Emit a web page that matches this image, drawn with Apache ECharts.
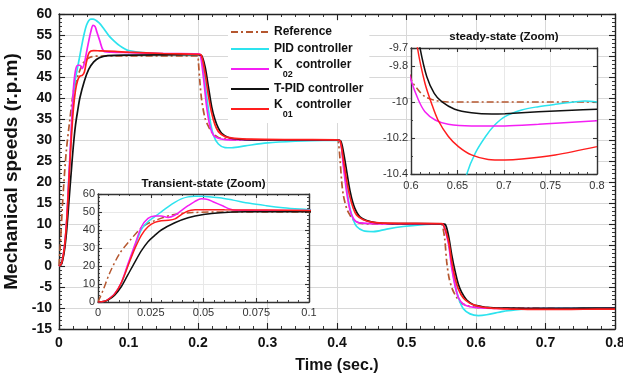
<!DOCTYPE html>
<html>
<head>
<meta charset="utf-8">
<script src="https://cdn.jsdelivr.net/npm/echarts@6/dist/echarts.min.js"></script>
<style>
  html, body { margin: 0; padding: 0; background: #fff; }
  #chart { width: 623px; height: 381px; }
</style>
</head>
<body>
<div id="chart"></div>
<script>
// Speed responses of the drive for a staircase reference (50 -> 30 -> 10 -> -10 r.p.m)
const seriesNames = ['Reference', 'PID controller', 'K02 controller', 'T-PID controller', 'K01 controller'];

// [time (s), speed (r.p.m)]
const refData = [
  [0, 0], [0.0024, 6.5], [0.0055, 16], [0.0103, 27], [0.015, 34], [0.0213, 42], [0.0276, 45.5],
  [0.0355, 48.5], [0.045, 49.7], [0.06, 50], [0.2, 50],
  [0.2005, 48.8], [0.2029, 43.5], [0.2053, 39.5], [0.2101, 35.2], [0.2149, 33.3], [0.2197, 31.9],
  [0.2293, 30.6], [0.2437, 30.15], [0.26, 30], [0.4, 30],
  [0.4019, 29.6], [0.4043, 25.5], [0.4067, 20.2], [0.4091, 16.9], [0.4139, 13.7], [0.4187, 12.1],
  [0.4235, 11], [0.4331, 10.2], [0.45, 10], [0.55, 10],
  [0.5515, 9.8], [0.5549, 6.6], [0.5578, 1.1], [0.5612, -2.8], [0.566, -5.5], [0.5708, -7.1],
  [0.578, -8.7], [0.5875, -9.45], [0.6, -9.87], [0.608, -9.935], [0.615, -9.97], [0.625, -9.99],
  [0.64, -10], [0.8, -10]
];
const pidData = [
  [0, 0], [0.003, 0.4], [0.0047, 1.3], [0.0079, 4.5], [0.0111, 10.5], [0.0142, 20.5], [0.0174, 30.6],
  [0.0206, 40.4], [0.0237, 44.6], [0.0269, 47.4], [0.03, 50.1], [0.0332, 52.9], [0.0364, 55.4],
  [0.0395, 57.3], [0.0427, 58.4], [0.0458, 58.8], [0.049, 58.8], [0.0577, 57.9], [0.064, 56.6],
  [0.0719, 54.8], [0.0798, 53.5], [0.0877, 52.4], [0.0956, 51.6], [0.1, 51.3], [0.12, 50.8],
  [0.15, 50.5], [0.2, 50.3],
  [0.2035, 50.2], [0.2077, 46.7], [0.2125, 40.3], [0.2173, 34.8], [0.2221, 31.2], [0.2293, 29.05],
  [0.2389, 28.2], [0.2485, 28.15], [0.2677, 28.6], [0.3, 29.3], [0.34, 29.7], [0.38, 29.9], [0.4, 29.9],
  [0.405, 29.7], [0.4091, 24.6], [0.4139, 18.4], [0.4187, 13.7], [0.4235, 11], [0.4283, 9.4],
  [0.4379, 8.4], [0.4523, 8.2], [0.4715, 8.8], [0.4955, 9.4], [0.5194, 9.8], [0.55, 10],
  [0.553, 9.9], [0.5602, 5.8], [0.565, 0.35], [0.5698, -4.35], [0.5746, -7.5], [0.5818, -10.2],
  [0.5914, -11.4], [0.6034, -11.8], [0.6153, -11.6], [0.6393, -10.8], [0.66, -10.4], [0.669, -10.285],
  [0.68, -10.193], [0.69, -10.128], [0.701, -10.081], [0.719, -10.044], [0.737, -10.026],
  [0.755, -10.013], [0.773, -10.002], [0.787, -9.994], [0.8, -10.0]
];
const k02Data = [
  [0, 0], [0.003, 0.4], [0.0047, 1.3], [0.0079, 4.6], [0.0111, 11], [0.0142, 21.3], [0.0174, 31.6],
  [0.0206, 41.8], [0.0237, 46.5], [0.0269, 47.8], [0.03, 47.8], [0.0332, 47], [0.0364, 48.2],
  [0.0395, 50.8], [0.0427, 53.5], [0.0458, 55.8], [0.049, 57.3], [0.052, 57], [0.0545, 55.7],
  [0.0593, 53.3], [0.0624, 51.7], [0.0656, 51], [0.075, 50.9], [0.1, 50.8], [0.15, 50.6], [0.2, 50.5],
  [0.203, 50.4], [0.2077, 45.1], [0.2125, 37.9], [0.2173, 33.2], [0.2221, 31.2], [0.2293, 30.4],
  [0.2389, 30.1], [0.26, 30], [0.4, 30],
  [0.405, 29.6], [0.4091, 23.9], [0.4139, 17.6], [0.4187, 13.3], [0.4235, 11.3], [0.4283, 10.5],
  [0.4379, 10.2], [0.46, 10.05], [0.55, 10.05],
  [0.553, 9.9], [0.5602, 5.5], [0.565, -0.4], [0.5698, -4.7], [0.5746, -7.5], [0.5818, -9.06],
  [0.5914, -9.7], [0.6, -9.878], [0.608, -9.989], [0.615, -10.054], [0.626, -10.1], [0.64, -10.124],
  [0.665, -10.133], [0.701, -10.133], [0.737, -10.124], [0.8, -10.104]
];
const tpidData = [
  [0, 0], [0.003, 0.3], [0.0047, 1], [0.0079, 3.8], [0.0111, 8.6], [0.0142, 15.2], [0.0174, 22],
  [0.0206, 28.5], [0.0237, 33.5], [0.0269, 37], [0.03, 40], [0.0364, 44], [0.0427, 46.8], [0.05, 48.6],
  [0.058, 49.6], [0.07, 50.1], [0.1, 50.2], [0.2, 50.3],
  [0.2053, 50.1], [0.2101, 47.5], [0.2149, 42.7], [0.2197, 37.9], [0.2245, 34.8], [0.2293, 32.8],
  [0.2341, 31.6], [0.2437, 30.6], [0.2581, 30.2], [0.28, 30.05], [0.4, 30],
  [0.4053, 29.8], [0.4091, 27.3], [0.4139, 22.6], [0.4187, 17.9], [0.4235, 14.7], [0.4283, 12.8],
  [0.4331, 11.7], [0.4427, 10.8], [0.4571, 10.3], [0.48, 10.1], [0.55, 10.05],
  [0.5554, 9.95], [0.5602, 7.4], [0.565, 2.7], [0.5698, -1.2], [0.5746, -4.35], [0.5794, -6.3],
  [0.5866, -8.1], [0.5962, -9.2], [0.6035, -9.5], [0.6097, -9.7], [0.617, -9.86], [0.625, -9.952],
  [0.633, -9.998], [0.647, -10.04], [0.665, -10.06], [0.687, -10.067], [0.701, -10.065],
  [0.737, -10.054], [0.773, -10.046], [0.8, -10.04]
];
const k01Data = [
  [0, 0], [0.003, 0.4], [0.0047, 1.3], [0.0079, 4.5], [0.0111, 10.8], [0.0142, 20], [0.0174, 29.5],
  [0.0206, 37.2], [0.0237, 41.8], [0.0269, 44.2], [0.03, 45.2], [0.0335, 45.4], [0.0365, 46.2],
  [0.0395, 48.6], [0.0427, 50.6], [0.046, 51.2], [0.05, 51.3], [0.06, 51.2], [0.08, 51.1], [0.1, 50.9],
  [0.15, 50.6], [0.2, 50.4],
  [0.2043, 50.3], [0.2101, 45.9], [0.2149, 40.7], [0.2197, 36.4], [0.2245, 33.6], [0.2293, 32],
  [0.2389, 30.8], [0.2533, 30.4], [0.2773, 30.2], [0.33, 30.1], [0.4, 30.05],
  [0.4045, 29.8], [0.4091, 25.45], [0.4139, 20.4], [0.4187, 16.4], [0.4235, 13.7], [0.4283, 12.1],
  [0.4379, 11], [0.4523, 10.4], [0.4715, 10.2], [0.55, 10.1],
  [0.5525, 10], [0.5602, 6.2], [0.565, 1.1], [0.5698, -2.8], [0.5746, -5.5], [0.5818, -7.6],
  [0.5914, -8.9], [0.6, -9.4], [0.607, -9.7], [0.615, -9.896], [0.622, -10.007], [0.629, -10.1],
  [0.64, -10.19], [0.651, -10.248], [0.665, -10.294], [0.683, -10.319], [0.701, -10.322],
  [0.719, -10.317], [0.755, -10.294], [0.8, -10.248]
];

// Axis ranges as [min, max, tick interval]
const mainX = [0, 0.8, 0.1];
const mainY = [-15, 60, 5];
const transX = [0, 0.1, 0.025];
const transY = [0, 60, 10];
const steadyX = [0.6, 0.8, 0.05];
const steadyY = [-10.4, -9.7, 0.2];

const axisTitles = { x: 'Time (sec.)', y: 'Mechanical speeds (r.p.m)' };
const insetTitles = ['Transient-state (Zoom)', 'steady-state (Zoom)'];

const seriesData = [refData, pidData, k02Data, tpidData, k01Data];
const seriesColors = ['#b5572f', '#2de3ee', '#f41ff4', '#111111', '#ff1e1e'];
const seriesDash = [[7, 3, 2, 3], 'solid', 'solid', 'solid', 'solid'];

const FONT = '"Liberation Sans", Arial, Helvetica, sans-serif';

function valueAxis(kind, gridIndex, range, o) {
  const ax = {
    type: 'value', gridIndex: gridIndex, position: o.position,
    min: range[0], max: range[1], interval: range[2],
    z: o.z || 0,
    axisLine: { show: true, onZero: false, lineStyle: { color: o.frame, width: 1.4 } },
    axisTick: { show: true, inside: true, length: o.tick, lineStyle: { color: o.frame, width: 1.1 } },
    minorTick: { show: true, splitNumber: o.minor || 5, length: o.tick / 2, lineStyle: { color: o.frame, width: 0.9 } },
    splitLine: { show: !!o.grid, lineStyle: { color: o.grid, width: 1 } },
    minorSplitLine: { show: false },
    axisLabel: {
      show: !!o.label, fontFamily: FONT, fontSize: o.fontSize, fontWeight: o.weight,
      color: o.labelColor, margin: o.margin, hideOverlap: false
    }
  };
  if (o.name) {
    ax.name = o.name;
    ax.nameLocation = 'middle';
    ax.nameGap = o.nameGap;
    if (kind === 'y') ax.nameRotate = 90;
    ax.nameTextStyle = { fontFamily: FONT, fontSize: o.nameSize, fontWeight: 'bold', color: '#111' };
  }
  return ax;
}

const mainStyle = { frame: '#222', tick: 6, grid: '#d8d8d8', fontSize: 14, weight: 'bold', labelColor: '#111', margin: 7 };
const insetStyle = { frame: '#333', tick: 4, grid: '#e8e8e8', fontSize: 11, weight: 'normal', labelColor: '#333', z: 6 };

const xAxes = [
  valueAxis('x', 0, mainX, Object.assign({}, mainStyle, { position: 'bottom', label: true, name: axisTitles.x, nameGap: 29, nameSize: 16 })),
  valueAxis('x', 0, mainX, Object.assign({}, mainStyle, { position: 'top', grid: null })),
  valueAxis('x', 1, transX, Object.assign({}, insetStyle, { position: 'bottom', label: true, margin: 5 })),
  valueAxis('x', 1, transX, Object.assign({}, insetStyle, { position: 'top', grid: null, name: insetTitles[0], nameGap: 4, nameSize: 11.5 })),
  valueAxis('x', 2, steadyX, Object.assign({}, insetStyle, { position: 'bottom', label: true, margin: 6 })),
  valueAxis('x', 2, steadyX, Object.assign({}, insetStyle, { position: 'top', grid: null, name: insetTitles[1], nameGap: 5, nameSize: 11.5 }))
];
const yAxes = [
  valueAxis('y', 0, mainY, Object.assign({}, mainStyle, { position: 'left', label: true, name: axisTitles.y, nameGap: 32, nameSize: 19 })),
  valueAxis('y', 0, mainY, Object.assign({}, mainStyle, { position: 'right', grid: null })),
  valueAxis('y', 1, transY, Object.assign({}, insetStyle, { position: 'left', label: true, margin: 3 })),
  valueAxis('y', 1, transY, Object.assign({}, insetStyle, { position: 'right', grid: null })),
  valueAxis('y', 2, steadyY, Object.assign({}, insetStyle, { position: 'left', label: true, margin: 3, minor: 2 })),
  valueAxis('y', 2, steadyY, Object.assign({}, insetStyle, { position: 'right', grid: null, minor: 2 }))
];

// Each response is drawn in the main axes and again in both zoom boxes
const series = [];
[[0, 2, 1.7], [2, 7, 1.5], [4, 7, 1.5]].forEach(function (cfg) {
  seriesNames.forEach(function (name, i) {
    series.push({
      type: 'line', name: name, data: seriesData[i],
      xAxisIndex: cfg[0], yAxisIndex: cfg[0],
      z: cfg[1], showSymbol: false, symbol: 'none', smooth: 0.3, clip: true,
      lineStyle: { color: seriesColors[i], width: cfg[2], type: seriesDash[i] },
      itemStyle: { color: seriesColors[i] },
      emphasis: { disabled: true }, animation: false
    });
  });
});

const chart = echarts.init(document.getElementById('chart'), null, { renderer: 'canvas' });
chart.setOption({
  backgroundColor: '#fff',
  animation: false,
  grid: [
    { left: 59, top: 14, width: 556, height: 315, show: false, containLabel: false, outerBoundsMode: 'none' },
    { left: 98, top: 194, width: 211, height: 108, show: true, backgroundColor: '#fff', borderWidth: 0, z: 5, containLabel: false, outerBoundsMode: 'none' },
    { left: 411, top: 48, width: 186, height: 126, show: true, backgroundColor: '#fff', borderWidth: 0, z: 5, containLabel: false, outerBoundsMode: 'none' }
  ],
  xAxis: xAxes,
  yAxis: yAxes,
  legend: {
    data: seriesNames, orient: 'vertical', left: 228, top: 21,
    itemWidth: 38, itemHeight: 14, itemGap: 3, padding: [4, 6, 4, 2],
    backgroundColor: '#fff', borderWidth: 0, z: 4, selectedMode: false,
    // line samples only, no marker in the middle
    itemStyle: { opacity: 0, borderWidth: 0 },
    formatter: function (name) {
      const m = /^K(\d\d)(.*)$/.exec(name);
      return m ? '{k|K}{sub|' + m[1] + '}{k|' + m[2] + '}{gap| }' : name;
    },
    textStyle: {
      fontFamily: FONT, fontSize: 12, fontWeight: 'bold', color: '#111', lineHeight: 14,
      rich: {
        k: { fontFamily: FONT, fontSize: 12, fontWeight: 'bold', color: '#111', lineHeight: 14, verticalAlign: 'top' },
        sub: { fontFamily: FONT, fontSize: 9, fontWeight: 'bold', color: '#111', lineHeight: 13, verticalAlign: 'bottom' },
        gap: { fontFamily: FONT, fontSize: 12, lineHeight: 20 }
      }
    }
  },
  series: series
});
</script>
</body>
</html>
